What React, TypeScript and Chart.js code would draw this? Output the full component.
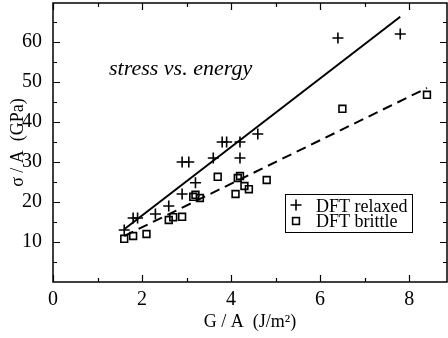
import React, { useEffect, useRef } from "react";
import { Chart, registerables } from "chart.js";

Chart.register(...registerables);

const xTickValues = [0, 2, 4, 6, 8];
const xMinorValues = [1, 3, 5, 7];
const yTickValues = [10, 20, 30, 40, 50, 60];
const yMinorValues = [5, 15, 25, 35, 45, 55, 65];

const relaxedX = [1.6, 1.8, 1.9, 2.3, 2.6, 2.9, 3.2, 2.9, 3.05, 3.6, 3.8, 3.9, 4.2, 4.2, 4.6, 6.4, 7.8];
const relaxedY = [13, 16, 16, 17, 19, 22, 24.8, 30, 30, 31, 35, 35, 35, 31, 37, 61, 62];

const brittleX = [1.6, 1.8, 2.1, 2.6, 2.7, 2.9, 3.15, 3.2, 3.3, 3.7, 4.1, 4.15, 4.2, 4.3, 4.4, 4.8, 6.5, 8.4];
const brittleY = [10.8, 11.5, 12, 15.5, 16.2, 16.3, 21.3, 21.8, 21, 26.3, 22, 26, 26.5, 24, 23.2, 25.5, 43.3, 46.8];

const fitRelaxedX = [1.6, 7.8];
const fitRelaxedY = [13.2, 66.3];
const fitBrittleX = [1.6, 8.4];
const fitBrittleY = [11.5, 48.5];

const legendLabels = ["DFT relaxed", "DFT brittle"];
const annotationText = "stress vs. energy";
const xTitle = "G / A  (J/m\u00B2)";
const yTitle = "\u03C3 / A  (GPa)";

const SERIF = "'Liberation Serif', 'Times New Roman', serif";

const pts = (xs: number[], ys: number[]) => xs.map((x, i) => ({ x, y: ys[i] }));

const framePlugin = {
  id: "frame",
  afterDraw(chart: any) {
    const { ctx, chartArea } = chart;
    const { left, right, top, bottom } = chartArea;
    const xs = chart.scales.x;
    const ys = chart.scales.y;
    ctx.save();
    ctx.strokeStyle = "#000";
    ctx.lineWidth = 1.5;
    ctx.strokeRect(left, top, right - left, bottom - top);
    ctx.lineWidth = 1.2;
    const drawX = (v: number, len: number) => {
      const p = Math.round(xs.getPixelForValue(v)) + 0.5;
      ctx.beginPath();
      ctx.moveTo(p, bottom);
      ctx.lineTo(p, bottom - len);
      ctx.moveTo(p, top);
      ctx.lineTo(p, top + len);
      ctx.stroke();
    };
    const drawY = (v: number, len: number) => {
      const p = Math.round(ys.getPixelForValue(v)) + 0.5;
      ctx.beginPath();
      ctx.moveTo(left, p);
      ctx.lineTo(left + len, p);
      ctx.moveTo(right, p);
      ctx.lineTo(right - len, p);
      ctx.stroke();
    };
    xTickValues.forEach((v) => drawX(v, 7));
    xMinorValues.forEach((v) => drawX(v, 4));
    yTickValues.forEach((v) => drawY(v, 7));
    yMinorValues.forEach((v) => drawY(v, 4));

    // annotation
    ctx.fillStyle = "#000";
    ctx.font = `italic 22px ${SERIF}`;
    ctx.textAlign = "left";
    ctx.textBaseline = "alphabetic";
    ctx.fillText(annotationText, left + 56, top + 72);

    // legend
    const lx = 285.5, ly = 194.5, lw = 127, lh = 38;
    ctx.fillStyle = "#fff";
    ctx.fillRect(lx, ly, lw, lh);
    ctx.lineWidth = 1;
    ctx.strokeRect(lx, ly, lw, lh);
    ctx.lineWidth = 1.6;
    ctx.beginPath();
    ctx.moveTo(296 - 5.5, 205);
    ctx.lineTo(296 + 5.5, 205);
    ctx.moveTo(296, 205 - 5.5);
    ctx.lineTo(296, 205 + 5.5);
    ctx.stroke();
    ctx.strokeRect(296 - 3.4, 221 - 3.4, 6.8, 6.8);
    ctx.fillStyle = "#000";
    ctx.font = `18px ${SERIF}`;
    ctx.fillText(legendLabels[0], 316, 212);
    ctx.fillText(legendLabels[1], 316, 227);
    ctx.restore();
  },
};

export default function App() {
  const ref = useRef<HTMLCanvasElement | null>(null);
  useEffect(() => {
    document.body.style.margin = "0";
    const canvas = ref.current!;
    const chart = new Chart(canvas, {
      type: "scatter",
      data: {
        datasets: [
          {
            label: "fit relaxed",
            data: pts(fitRelaxedX, fitRelaxedY),
            showLine: true,
            borderColor: "#000",
            borderWidth: 2,
            pointRadius: 0,
          },
          {
            label: "fit brittle",
            data: pts(fitBrittleX, fitBrittleY),
            showLine: true,
            borderColor: "#000",
            borderWidth: 2,
            borderDash: [10, 6],
            pointRadius: 0,
          },
          {
            label: legendLabels[0],
            data: pts(relaxedX, relaxedY),
            pointStyle: "cross",
            pointRadius: 5.5,
            borderColor: "#000",
            borderWidth: 1.6,
            backgroundColor: "#000",
          },
          {
            label: legendLabels[1],
            data: pts(brittleX, brittleY),
            pointStyle: "rect",
            pointRadius: 4.8,
            borderColor: "#000",
            borderWidth: 1.6,
            backgroundColor: "rgba(0,0,0,0)",
          },
        ],
      },
      options: {
        responsive: false,
        animation: false,
        devicePixelRatio: 1,
        layout: { autoPadding: false, padding: { top: 3, right: 1, left: 0, bottom: 0 } },
        plugins: { legend: { display: false }, tooltip: { enabled: false } },
        scales: {
          x: {
            type: "linear",
            min: 0,
            max: 8.85,
            grid: { display: false },
            border: { display: false },
            ticks: {
              color: "#000",
              font: { family: SERIF, size: 20 },
              padding: -2,
            },
            afterBuildTicks: (s: any) => {
              s.ticks = xTickValues.map((v) => ({ value: v }));
            },
            afterFit: (s: any) => {
              s.height = 56;
              s.paddingLeft = 0;
              s.paddingRight = 0;
              s.paddingTop = 0;
              s.paddingBottom = 0;
            },
            title: {
              display: true,
              text: xTitle,
              color: "#000",
              font: { family: SERIF, size: 18 },
              padding: { top: 0, bottom: 5 },
            },
          },
          y: {
            type: "linear",
            min: 0,
            max: 69.75,
            grid: { display: false },
            border: { display: false },
            ticks: {
              color: "#000",
              font: { family: SERIF, size: 20 },
              padding: 3,
            },
            afterBuildTicks: (s: any) => {
              s.ticks = yTickValues.map((v) => ({ value: v }));
            },
            afterFit: (s: any) => {
              s.width = 53;
              s.paddingLeft = 0;
              s.paddingRight = 0;
              s.paddingTop = 0;
              s.paddingBottom = 0;
            },
            title: {
              display: true,
              text: yTitle,
              color: "#000",
              font: { family: SERIF, size: 18 },
              padding: { top: 7, bottom: 0 },
            },
          },
        },
      },
      plugins: [framePlugin],
    });
    return () => chart.destroy();
  }, []);
  return <canvas ref={ref} width={448} height={338} style={{ display: "block" }} />;
}
